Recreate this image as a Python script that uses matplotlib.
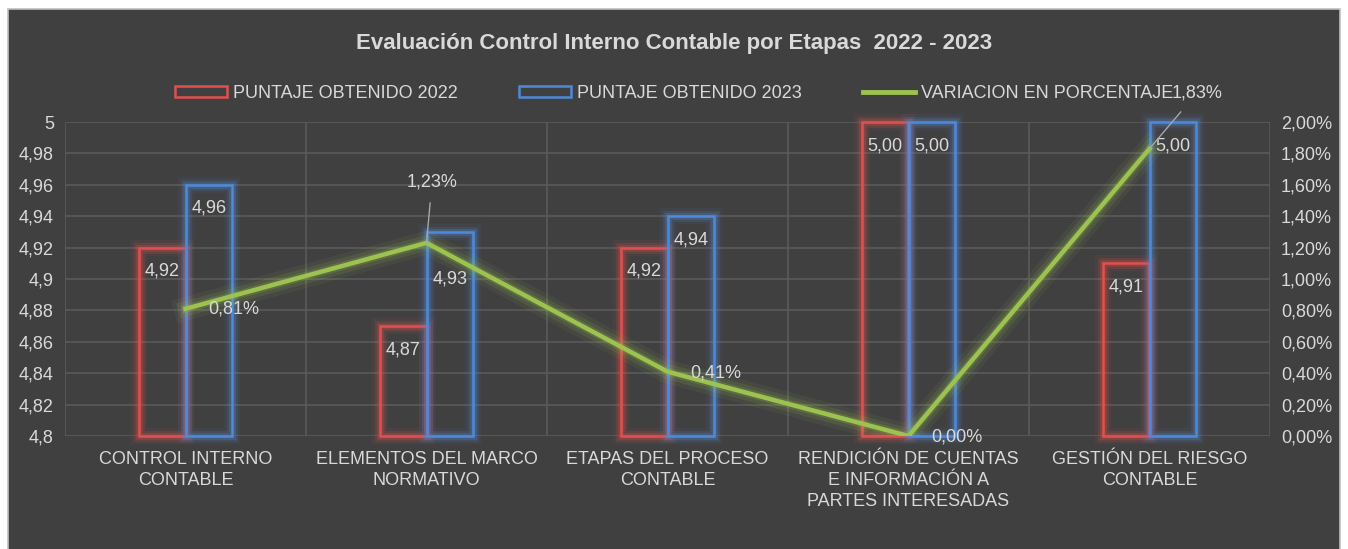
import matplotlib.pyplot as plt
import matplotlib.patheffects as pe
from matplotlib.patches import Rectangle
from matplotlib.lines import Line2D
from matplotlib.ticker import FuncFormatter, MultipleLocator
import numpy as np

categorias = ["CONTROL INTERNO\nCONTABLE", "ELEMENTOS DEL MARCO\nNORMATIVO",
              "ETAPAS DEL PROCESO\nCONTABLE",
              "RENDICIÓN DE CUENTAS\nE INFORMACIÓN A\nPARTES INTERESADAS",
              "GESTIÓN DEL RIESGO\nCONTABLE"]
puntaje_2022 = [4.92, 4.87, 4.92, 5.00, 4.91]
puntaje_2023 = [4.96, 4.93, 4.94, 5.00, 5.00]
variacion = [0.81, 1.23, 0.41, 0.00, 1.83]  # porcentaje

BG = "#404040"
TXT = "#d9d9d9"
GRID = "#5a5a5a"
RED = "#e0504e"
BLUE = "#4f8ad8"
GREEN = "#9cc34f"
FS = 13

plt.rcParams['font.family'] = ['Liberation Sans', 'DejaVu Sans']

fig = plt.figure(figsize=(13.48, 5.49), dpi=100)
fig.patch.set_facecolor("white")
fig.patches.append(Rectangle((8 / 1348, -0.01), 1332 / 1348, 1 - 9 / 549 + 0.01,
                             transform=fig.transFigure, facecolor=BG,
                             edgecolor="#bfbfbf", linewidth=1.2, zorder=-10))

ax = fig.add_axes([65 / 1348, 1 - 436 / 549, 1205 / 1348, 314 / 549])
ax.set_facecolor(BG)
ax2 = ax.twinx()

x = np.arange(len(categorias))
w = 0.195


def glow(color, lw):
    return [pe.Stroke(linewidth=lw + 10, foreground=color, alpha=0.08),
            pe.Stroke(linewidth=lw + 6, foreground=color, alpha=0.15),
            pe.Stroke(linewidth=lw + 3, foreground=color, alpha=0.25),
            pe.Normal()]


b1 = ax.bar(x - w / 2, np.array(puntaje_2022) - 4.8, w, bottom=4.8,
            facecolor="none", edgecolor=RED, linewidth=1.8, zorder=3)
b2 = ax.bar(x + w / 2, np.array(puntaje_2023) - 4.8, w, bottom=4.8,
            facecolor="none", edgecolor=BLUE, linewidth=1.8, zorder=3)
for r in list(b1) + list(b2):
    r.set_path_effects(glow(r.get_edgecolor(), 1.8))
    r.set_clip_on(False)

ax.set_xlim(-0.5, len(categorias) - 0.5)
ax.set_ylim(4.8, 5.0)
ax.yaxis.set_major_locator(MultipleLocator(0.02))
ax.yaxis.set_major_formatter(FuncFormatter(
    lambda v, p: ("%g" % round(v, 2)).replace(".", ",")))
ax.set_xticks(x)
ax.set_xticklabels(categorias, color=TXT, fontsize=FS, linespacing=1.3)
ax.tick_params(axis='x', length=0, pad=11)
ax.tick_params(axis='y', length=0, labelsize=FS, labelcolor=TXT, pad=8)
ax.set_xticks(np.arange(len(categorias) + 1) - 0.5, minor=True)
ax.tick_params(axis='x', which='minor', length=0)
ax.grid(axis='y', color=GRID, linewidth=1.2)
ax.grid(axis='x', which='minor', color=GRID, linewidth=1.2)
ax.set_axisbelow(True)
for s in ax.spines.values():
    s.set_visible(False)
for s in ax2.spines.values():
    s.set_visible(False)

# bar labels (vertical offset in points below bar top)
off_22 = [-17, -17, -17, -17, -17]
off_23 = [-17, -34, -17, -17, -17]
for i in range(len(categorias)):
    ax.annotate(("%.2f" % puntaje_2022[i]).replace(".", ","), (x[i] - w / 2, puntaje_2022[i]),
                xytext=(0, off_22[i]), textcoords="offset points", ha="center", va="center",
                color=TXT, fontsize=FS, zorder=5)
    ax.annotate(("%.2f" % puntaje_2023[i]).replace(".", ","), (x[i] + w / 2, puntaje_2023[i]),
                xytext=(0, off_23[i]), textcoords="offset points", ha="center", va="center",
                color=TXT, fontsize=FS, zorder=5)

ax2.plot(x, variacion, color=GREEN, linewidth=3.2, zorder=4,
         path_effects=[pe.Stroke(linewidth=17, foreground=GREEN, alpha=0.07),
                       pe.Stroke(linewidth=11, foreground=GREEN, alpha=0.12),
                       pe.Stroke(linewidth=6, foreground=GREEN, alpha=0.2),
                       pe.Normal()])
ax2.set_ylim(0, 2.0)
ax2.yaxis.set_major_locator(MultipleLocator(0.2))
ax2.yaxis.set_major_formatter(FuncFormatter(
    lambda v, p: ("%.2f%%" % v).replace(".", ",")))
ax2.tick_params(axis='y', length=0, labelsize=FS, labelcolor=TXT, pad=8)

# line labels: (dx, dy) in points, leader line flag
lab_off = [(35, 0), (4, 44), (35, -1), (35, -1), (34, 40)]
lab_leader = [False, True, False, False, True]
for i, v in enumerate(variacion):
    ax2.annotate(("%.2f%%" % v).replace(".", ","), (x[i], v),
                 xytext=lab_off[i], textcoords="offset points", ha="center", va="center",
                 color=TXT, fontsize=FS, zorder=6, annotation_clip=False,
                 arrowprops=dict(arrowstyle="-", color="#a6a6a6", lw=1.0,
                                 shrinkA=7, shrinkB=0) if lab_leader[i] else None)

fig.text(0.5, 1 - 44 / 549, "Evaluación Control Interno Contable por Etapas  2022 - 2023",
         ha="center", va="center", color=TXT, fontsize=16, fontweight="bold")

handles = [Rectangle((0, 0), 1, 1, facecolor="none", edgecolor=RED, linewidth=1.8),
           Rectangle((0, 0), 1, 1, facecolor="none", edgecolor=BLUE, linewidth=1.8),
           Line2D([0], [0], color=GREEN, linewidth=3.5)]
leg = fig.legend(handles, ["PUNTAJE OBTENIDO 2022", "PUNTAJE OBTENIDO 2023",
                           "VARIACION EN PORCENTAJE"],
                 loc="center", bbox_to_anchor=(0.5, 1 - 93 / 549), ncol=3,
                 frameon=False, fontsize=FS, labelcolor=TXT, handlelength=2.9,
                 handleheight=0.55, handletextpad=0.3, columnspacing=3.4)

fig.savefig("out.png", dpi=100, facecolor=fig.get_facecolor())
